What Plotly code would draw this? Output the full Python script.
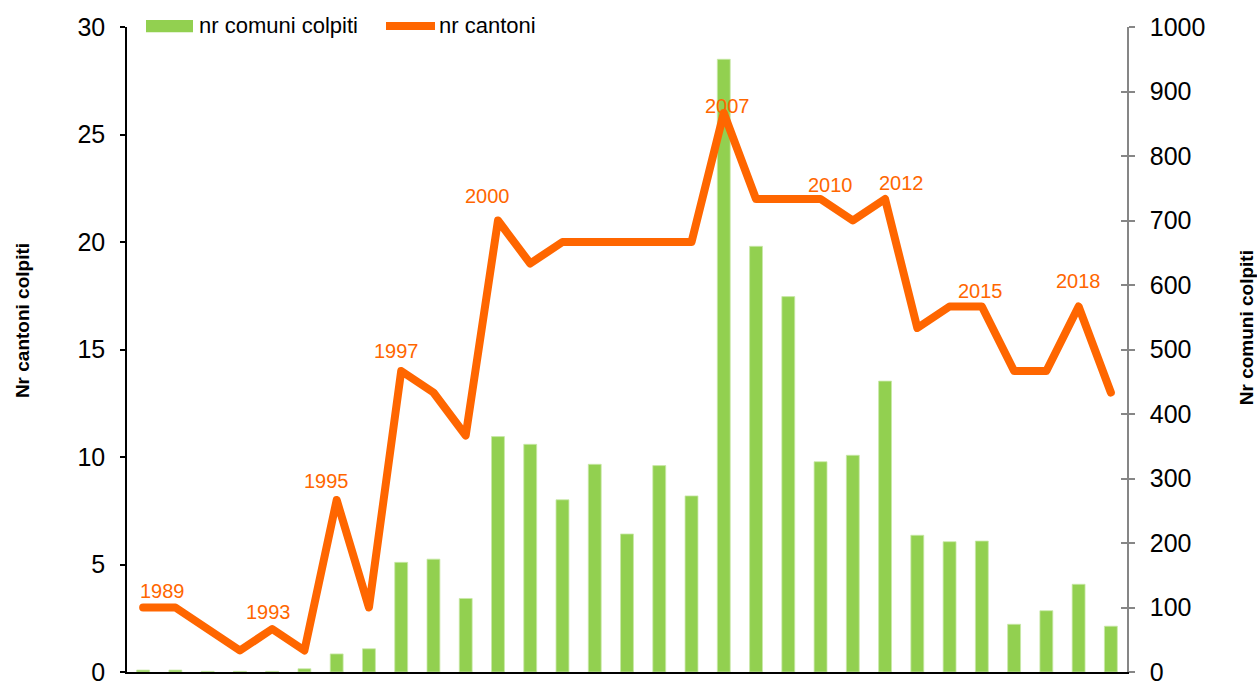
import plotly.graph_objects as go

years = list(range(1989, 2020))
nr_cantoni = [3, 3, 2, 1, 2, 1, 8, 3, 14, 13, 11, 21, 19, 20, 20, 20, 20, 20,
              26, 22, 22, 22, 21, 22, 16, 17, 17, 14, 14, 17, 13]
nr_comuni = [3, 3, 1, 1, 1, 5, 28, 36, 170, 175, 114, 365, 353, 267, 322, 214,
             320, 273, 950, 660, 582, 326, 336, 451, 212, 202, 203, 74, 95, 136, 71]
label_years = [1989, 1993, 1995, 1997, 2000, 2007, 2010, 2012, 2015, 2018]

# label pixel offsets (style)
label_shift = {1989: (19, 17), 1993: (-4, 17), 1995: (-10, 19), 1997: (-5, 20),
               2000: (-10, 25), 2007: (4, 7), 2010: (10, 14), 2012: (16, 16),
               2015: (-1, 16), 2018: (0, 26)}

GREEN = "#92D050"
ORANGE = "#FF6600"
FONT = "Liberation Sans, Arial, sans-serif"

fig = go.Figure()
fig.add_trace(go.Bar(x=years, y=nr_comuni, name="nr comuni colpiti", yaxis="y",
                     width=0.4, marker=dict(color=GREEN, line=dict(color="#c9e8a8", width=0.8)),
                     showlegend=False))
fig.add_trace(go.Bar(x=years, y=nr_comuni, yaxis="y3", width=0.4, opacity=0,
                     hoverinfo="skip", showlegend=False))
fig.add_trace(go.Scatter(x=years, y=nr_cantoni, name="nr cantoni", yaxis="y2",
                         mode="lines", line=dict(color=ORANGE, width=8),
                         showlegend=False))

annotations = []
for yr in label_years:
    v = nr_cantoni[years.index(yr)]
    dx, dy = label_shift[yr]
    annotations.append(dict(x=yr, y=v, xref="x", yref="y2", text=str(yr),
                            showarrow=False, xanchor="center", yanchor="middle",
                            xshift=dx, yshift=dy,
                            font=dict(family=FONT, size=20, color=ORANGE)))

# axis titles
annotations.append(dict(x=-0.105, y=0.544, xref="paper", yref="paper",
                        text="<b>Nr cantoni colpiti</b>", textangle=-90, showarrow=False,
                        xanchor="center", yanchor="middle",
                        font=dict(family=FONT, size=19, color="black")))
annotations.append(dict(x=1.119, y=0.533, xref="paper", yref="paper",
                        text="<b>Nr comuni colpiti</b>", textangle=-90, showarrow=False,
                        xanchor="center", yanchor="middle",
                        font=dict(family=FONT, size=19, color="black")))
# legend texts
annotations.append(dict(x=0.070, y=1.0016, xref="paper", yref="paper",
                        text="nr comuni colpiti", showarrow=False, xanchor="left",
                        yanchor="middle", font=dict(family=FONT, size=22, color="black")))
annotations.append(dict(x=0.310, y=1.0016, xref="paper", yref="paper",
                        text="nr cantoni", showarrow=False, xanchor="left",
                        yanchor="middle", font=dict(family=FONT, size=22, color="black")))

shapes = [
    dict(type="rect", xref="paper", yref="paper", x0=0.019, x1=0.066,
         y0=0.992, y1=1.011, fillcolor=GREEN, line=dict(width=0)),
    dict(type="line", xref="paper", yref="paper", x0=0.259, x1=0.308,
         y0=1.0016, y1=1.0016, line=dict(color=ORANGE, width=8)),
]

fig.update_layout(
    template="none",
    width=1257, height=681,
    margin=dict(l=127, r=130, t=27, b=9, autoexpand=False),
    paper_bgcolor="white", plot_bgcolor="white",
    font=dict(family=FONT, color="black"),
    bargap=0.6,
    xaxis=dict(range=[1988.5, 2019.5], showline=True, linecolor="black", linewidth=1.5,
               showticklabels=False, ticks="", showgrid=False, zeroline=False,
               automargin=False),
    yaxis=dict(side="right", range=[0, 1000], dtick=100, showline=True,
               linecolor="#868686", linewidth=1.5, ticks="outside", ticklen=6,
               tickcolor="#868686", tickwidth=1.5, tickfont=dict(size=25, color="black"),
               showgrid=False, zeroline=False, ticklabelstandoff=10, automargin=False,
               ticklabeloverflow="allow"),
    yaxis2=dict(overlaying="y", side="left", range=[0, 30], dtick=5, showline=True,
                linecolor="black", linewidth=1.5, ticks="outside", ticklen=5,
                tickcolor="black", tickwidth=1.5, tickfont=dict(size=25, color="black"),
                showgrid=False, zeroline=False, ticklabelstandoff=10, automargin=False,
                ticklabeloverflow="allow"),
    yaxis3=dict(overlaying="y", side="right", range=[0, 1000], dtick=100,
                showline=False, ticks="inside", ticklen=6, tickcolor="#868686",
                tickwidth=1.5, showticklabels=False, showgrid=False, zeroline=False,
                automargin=False),
    annotations=annotations,
    shapes=shapes,
)

post = ("document.body.style.margin='0';document.body.style.overflow='hidden';"
        "document.querySelectorAll('.scatterlayer path.js-line').forEach(function(p){"
        "p.style.strokeLinejoin='round';p.style.strokeLinecap='round';});")
fig.write_html("out.html", config={"displayModeBar": False}, post_script=post)
